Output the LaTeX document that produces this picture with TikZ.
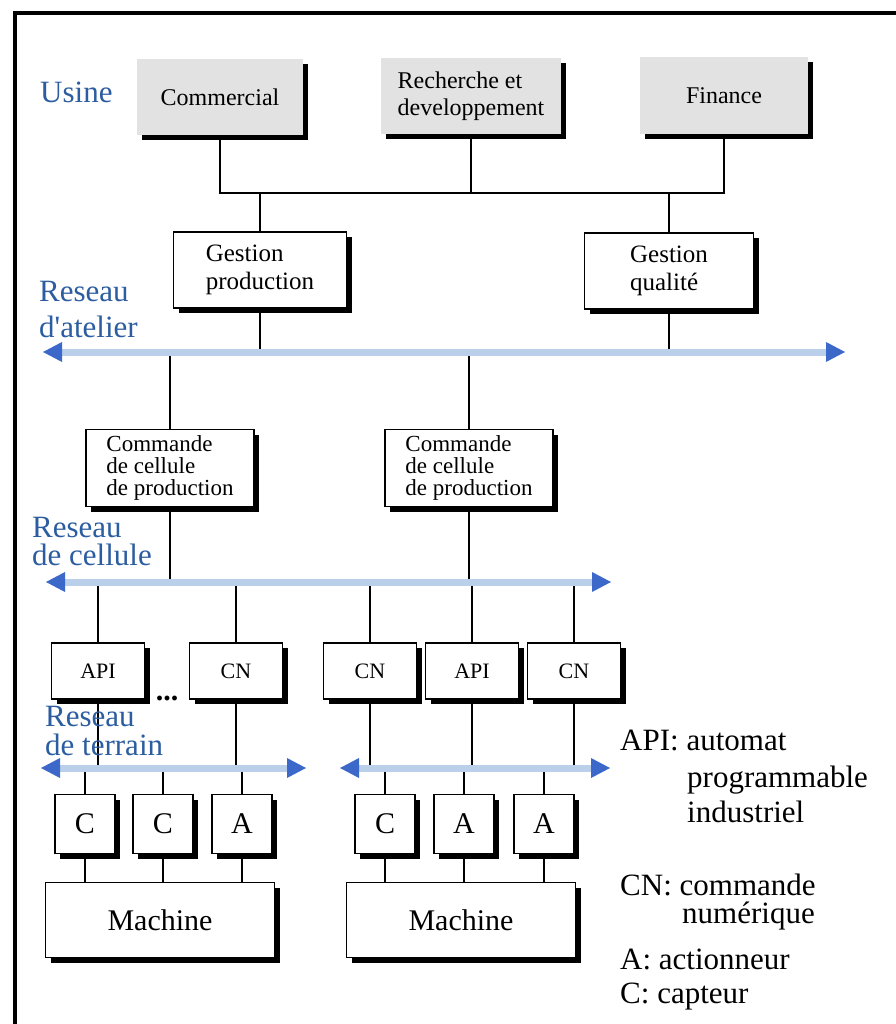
\documentclass[tikz,border=0pt]{standalone}
\usepackage{fontspec}
\setmainfont{Liberation Serif}
\usepackage{xcolor}
\usepackage{tikz}
\usetikzlibrary{arrows.meta,shadows}
\definecolor{netblue}{HTML}{2C5DA0}
\definecolor{busfill}{HTML}{B9CFEA}
\definecolor{tipblue}{HTML}{3B68C9}
\definecolor{boxgray}{HTML}{E2E2E2}
\tikzset{
  frame/.style={draw=black, line width=3.5pt, line join=miter},
  shade5/.style={drop shadow={shadow xshift=5pt, shadow yshift=-5pt, fill=black, opacity=1}},
  gbox/.style={fill=boxgray, inner sep=2pt, shade5, align=left, font=\fontsize{24}{27}\selectfont},
  wbox/.style={draw=black, fill=white, line width=1.4pt, inner sep=2pt, shade5, align=left},
  wire/.style={draw=black, line width=1.3pt},
  bustip/.tip={Triangle[color=tipblue, length=19pt, width=20pt, line width=0pt]},
  bus/.style={draw=busfill, line width=7pt, arrows=bustip-bustip},
  net/.style={text=netblue, font=\fontsize{31}{31}\selectfont, anchor=base west, inner sep=0pt},
  leg/.style={font=\fontsize{31}{31}\selectfont, anchor=base west, inner sep=0pt}
}

\begin{document}
\begin{tikzpicture}[x=1pt, y=-1pt]
  \useasboundingbox (0,0) rectangle (895,1024);
  \fill[white] (0,0) rectangle (895,1024);
  \draw[frame] (15,1034) -- (15,13) -- (905,13);

  % usine
  \node[gbox, minimum width=166pt, minimum height=76pt] (com) at (220,97) {Commercial};
  \node[gbox, minimum width=180pt, minimum height=76pt] (rd) at (471,96) {Recherche et\\developpement};
  \node[gbox, minimum width=168pt, minimum height=77pt] (fin) at (724,96) {Finance};
  \coordinate (tj) at (471,193);

  \node[wbox, font=\fontsize{25}{28}\selectfont, minimum width=173pt, minimum height=76pt] (gprod) at (260,270) {Gestion\\production};
  \node[wbox, font=\fontsize{25}{28}\selectfont, minimum width=169pt, minimum height=76pt] (gqual) at (669,271) {Gestion\\qualité};

  % cellules
  \node[wbox, font=\fontsize{23}{22}\selectfont, minimum width=168pt, minimum height=77pt] (cell1) at (170,468) {Commande\\de cellule\\de production};
  \node[wbox, font=\fontsize{23}{22}\selectfont, minimum width=168pt, minimum height=77pt] (cell2) at (469,468) {Commande\\de cellule\\de production};

  % API / CN
  \foreach \n/\x/\t in {api1/98/API, cn1/236/CN, cn2/370/CN, api2/472/API, cn3/574/CN}
    \node[wbox, font=\fontsize{22}{22}\selectfont, minimum width=93pt, minimum height=56pt] (\n) at (\x,671) {\t};
  \node[font=\bfseries\fontsize{30}{30}\selectfont, anchor=base, inner sep=0pt] (dots) at (167,700) {...};

  % capteurs, actionneurs
  \foreach \n/\x/\t in {c1/85/C, c2/163/C, a1/242/A, c3/385/C, a2/464/A, a3/544/A}
    \node[wbox, font=\fontsize{30}{30}\selectfont, minimum width=60pt, minimum height=59pt] (\n) at (\x,824) {\t};

  \node[wbox, font=\fontsize{30}{30}\selectfont, minimum width=229pt, minimum height=75pt] (mach1) at (160,920) {Machine};
  \node[wbox, font=\fontsize{30}{30}\selectfont, minimum width=229pt, minimum height=75pt] (mach2) at (461,920) {Machine};

  % reseaux
  \coordinate (atl-w) at (43,352);
  \coordinate (atl-e) at (845,352);
  \coordinate (cel-w) at (46,582);
  \coordinate (cel-e) at (611,582);
  \coordinate (ter1-w) at (41,768);
  \coordinate (ter1-e) at (306,768);
  \coordinate (ter2-w) at (340,768);
  \coordinate (ter2-e) at (610,768);

  \draw[wire] (com) |- (tj) -| (fin);
  \draw[wire] (rd) -- (tj);
  \draw[wire] (gprod) -- (gprod |- tj);
  \draw[wire] (gqual) -- (gqual |- tj);
  \foreach \n in {gprod, gqual, cell1, cell2}
    \draw[wire] (\n) -- (\n |- atl-w);
  \foreach \n in {cell1, cell2, api1, cn1, cn2, api2, cn3}
    \draw[wire] (\n) -- (\n |- cel-w);
  \foreach \n in {api1, cn1, c1, c2, a1}
    \draw[wire] (\n) -- (\n |- ter1-w);
  \foreach \n in {cn2, api2, cn3, c3, a2, a3}
    \draw[wire] (\n) -- (\n |- ter2-w);
  \foreach \n in {c1, c2, a1}
    \draw[wire] (\n) -- (\n |- mach1.north);
  \foreach \n in {c3, a2, a3}
    \draw[wire] (\n) -- (\n |- mach2.north);

  \draw[bus] (atl-w) -- (atl-e);
  \draw[bus] (cel-w) -- (cel-e);
  \draw[bus] (ter1-w) -- (ter1-e);
  \draw[bus] (ter2-w) -- (ter2-e);

  % labels
  \node[net] (usine) at (40,103) {Usine};
  \node[net] (atl1) at (39,301) {Reseau};
  \node[net] (atl2) at (39,337) {d\textquotesingle atelier};
  \node[net] (cel1) at (32,537) {Reseau};
  \node[net] (cel2) at (32,565) {de cellule};
  \node[net] (ter1) at (45,726) {Reseau};
  \node[net] (ter2) at (45,755) {de terrain};

  % legende
  \node[leg] (lapi) at (620,750) {API: automat};
  \node[leg] (lapi2) at (687,787) {programmable};
  \node[leg] (lapi3) at (687,822) {industriel};
  \node[leg] (lcn) at (620,895) {CN: commande};
  \node[leg] (lcn2) at (682,923) {numérique};
  \node[leg] (la) at (620,969) {A: actionneur};
  \node[leg] (lc) at (620,1003) {C: capteur};
\end{tikzpicture}
\end{document}
